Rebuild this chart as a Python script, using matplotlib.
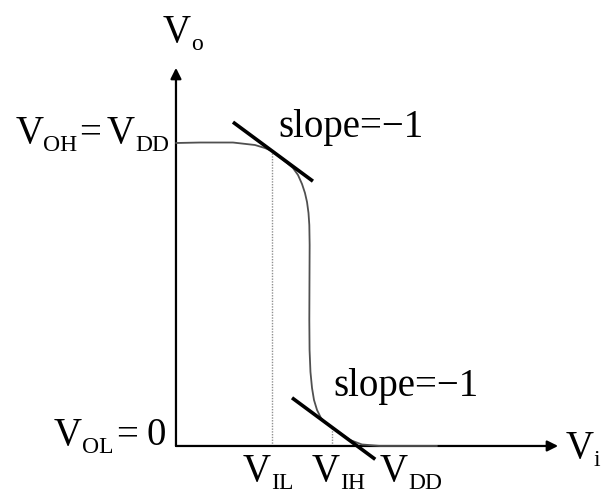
import numpy as np
import matplotlib
matplotlib.use("Agg")
import matplotlib.pyplot as plt

plt.rcParams['font.family'] = ['Liberation Serif', 'DejaVu Serif']

# Inverter voltage transfer characteristic (Vi, Vo), VDD = 5
VDD = 5.0
VIL = 1.17
VIH = 1.90
vi = [0.0, 0.293, 0.695, 0.963, 1.085, 1.171, 1.268, 1.354, 1.427, 1.488, 1.537,
      1.573, 1.598, 1.616, 1.626, 1.630, 1.628, 1.626, 1.629, 1.640, 1.659, 1.683,
      1.720, 1.768, 1.829, 1.902, 2.0, 2.122, 2.268, 2.488, 3.183]
vo = [5.0, 5.008, 5.008, 4.967, 4.917, 4.868, 4.761, 4.670, 4.587, 4.472, 4.323,
      4.175, 4.026, 3.845, 3.647, 3.317, 2.739, 2.079, 1.584, 1.221, 0.957, 0.759,
      0.594, 0.462, 0.380, 0.303, 0.215, 0.099, 0.025, 0.0, 0.0]

# tangent lines of slope -1 at VIL and VIH
slope = -1.0
tan_points = [(VIL, 4.87), (VIH, 0.31)]
tan_spans = [(0.695, 1.67), (1.415, 2.43)]

# labels under the Vi axis, each as (main, subscript)
x_labels = [('V', 'IL'), ('V', 'IH'), ('V', 'DD')]
x_label_pos = [0.817, 1.659, 2.488]

fs = 28        # main text size
fs_sub = 17    # subscript size
sub_drop = 6.0  # subscript drop in points

fig = plt.figure(figsize=(6.01, 4.95), dpi=100)
ax = fig.add_axes([0, 0, 1, 1])
ax.set_xlim(-2.146, 5.183)
ax.set_ylim(-0.809, 7.36)
ax.axis('off')
renderer = fig.canvas.get_renderer()


def chain_text(x, y, pieces, ha='left'):
    """Draw pieces (text, is_sub, gap_before_pt) one after another on a baseline."""
    arts = []
    off = 0.0
    for s, sub, gap in pieces:
        off += gap
        t = ax.annotate(s, (x, y), xytext=(off, -sub_drop if sub else 0),
                        textcoords='offset points', fontsize=fs_sub if sub else fs,
                        ha='left', va='baseline')
        off += t.get_window_extent(renderer).width * 72 / fig.dpi
        arts.append(t)
    if ha == 'right':
        for t in arts:
            ox, oy = t.xyann
            t.xyann = (ox - off, oy)
    return arts


# axes with arrow heads
for tip in [(4.66, 0), (0, 6.24)]:
    ax.annotate('', xy=tip, xytext=(0, 0),
                arrowprops=dict(arrowstyle='-|>', lw=1.6, color='black',
                                mutation_scale=16, shrinkA=0, shrinkB=0))

# transfer curve
ax.plot(vi, vo, color='#505050', lw=1.3, solid_capstyle='round', zorder=3)

# dotted markers at VIL and VIH
for (x0, y0) in tan_points:
    ax.plot([x0, x0], [0, y0], color='#909090', lw=1.0, ls=(0, (1, 1)), zorder=2)

# tangent lines
for (x0, y0), (xa, xb) in zip(tan_points, tan_spans):
    xs = np.array([xa, xb])
    ax.plot(xs, y0 + slope * (xs - x0), color='black', lw=2.6,
            solid_capstyle='butt', zorder=4)

ax.text(1.244, 5.099, 'slope=\u22121', fontsize=fs, ha='left', va='baseline')
ax.text(1.915, 0.825, 'slope=\u22121', fontsize=fs, ha='left', va='baseline')

chain_text(-0.159, 6.667, [('V', False, 0), ('o', True, 0)])
chain_text(-0.085, VDD, [('V', False, 0), ('OH', True, 0), ('=', False, 1.5),
                         ('V', False, 4), ('DD', True, 0)], ha='right')
chain_text(-0.122, 0.017, [('V', False, 0), ('OL', True, 0), ('=', False, 2),
                           ('0', False, 6)], ha='right')
chain_text(4.756, -0.198, [('V', False, 0), ('i', True, 0)])

for (main, sub), xp in zip(x_labels, x_label_pos):
    chain_text(xp, -0.58, [(main, False, 0), (sub, True, 0)])

fig.savefig('out.png', dpi=100)
